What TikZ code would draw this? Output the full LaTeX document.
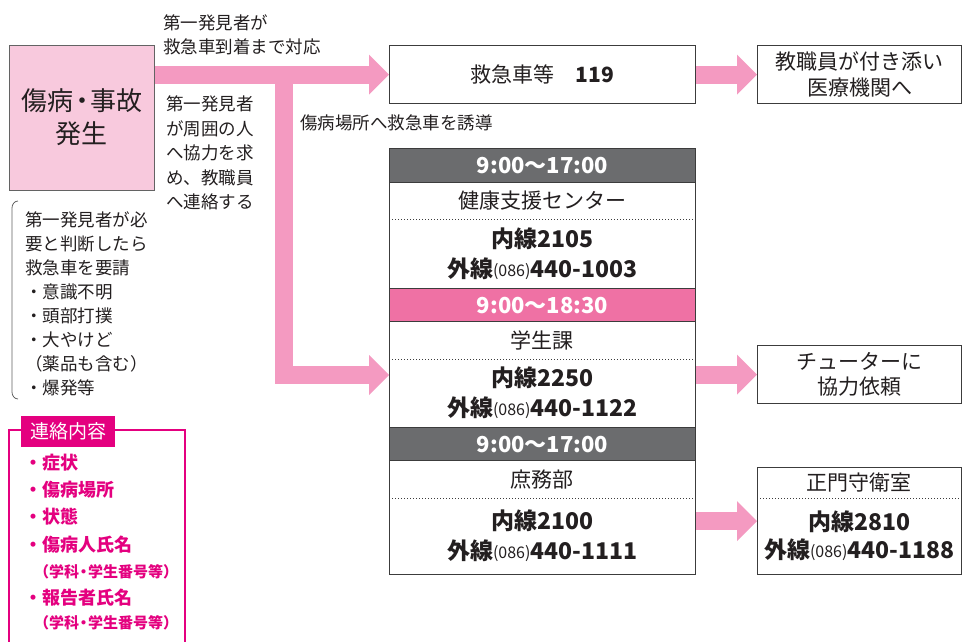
\documentclass[tikz,border=0pt]{standalone}
\usepackage{fontspec}
\setmainfont{Noto Sans CJK JP}
\usetikzlibrary{arrows.meta}
\definecolor{arr}{HTML}{F49AC1}
\definecolor{lpink}{HTML}{F8C9DD}
\definecolor{dgray}{HTML}{6B6C6E}
\definecolor{hpink}{HTML}{EF71A4}
\definecolor{mag}{HTML}{E4007F}
\definecolor{ink}{HTML}{231F20}
\definecolor{edge}{HTML}{3C3C3C}
\newcommand\fsz[2]{\fontsize{#1}{#2}\selectfont}
\newcommand\areacode{{\fsz{16}{16}\raisebox{1pt}{(086)}}}
\pgfdeclarelayer{bg}
\pgfdeclarelayer{arrowlayer}
\pgfsetlayers{bg,arrowlayer,main}
\begin{document}
\begin{tikzpicture}[x=1pt,y=-1pt,
  bx/.style={draw=edge,line width=1.2pt,inner sep=0pt,anchor=north west},
  rw/.style={inner sep=0pt,anchor=north west,minimum width=306pt,text=ink},
  grw/.style={inner sep=0pt,anchor=north west,minimum width=204pt,text=ink},
  hd/.style={rw,draw=edge,line width=1.2pt,text=white,font=\bfseries\fsz{22}{26}},
  tx/.style={text=ink,inner sep=0pt},
  fat/.style={draw=arr,line width=18pt,line join=miter,-{Triangle[length=20pt,width=40pt,line width=0pt]}},
  dl/.style={draw=edge,line width=0.7pt,dash pattern=on 1.4pt off 1.6pt},
  mg/.style={text=mag,inner sep=0pt,anchor=west}
]
\useasboundingbox (0,0) rectangle (962,642);
\begin{pgfonlayer}{bg}
\fill[white] (0,0) rectangle (962,642);
\end{pgfonlayer}

% left box
\node[bx,fill=lpink,draw=edge!80,minimum width=145pt,minimum height=145pt] (lbox) at (9,45) {};
\node[tx,align=center,font=\fsz{26}{33}] (ltext) at (82,117) {傷病\kern-0.18em・\kern-0.18em事故\\発生};

% top boxes
\node[bx,minimum width=306pt,minimum height=58pt] (top) at (389,45) {};
\node[tx,font=\fsz{21}{25}] (toptext) at (top.center) {救急車等　\textbf{119}};
\node[bx,minimum width=204pt,minimum height=58pt] (hosp) at (757,45) {};
\node[tx,align=center,font=\fsz{21}{26}] (hosptext) at (hosp.center) {教職員が付き添い\\医療機関へ};

% labels
\node[tx,anchor=west,align=left,font=\fsz{17.5}{24}] (labA) at (163,35) {第一発見者が\\救急車到着まで対応};
\node[tx,anchor=west,align=left,font=\fsz{17.5}{24.5}] (labB) at (166,153) {第一発見者\\が周囲の人\\へ協力を求\\め、教職員\\へ連絡する};
\node[tx,anchor=west,font=\fsz{17.5}{22}] (labC) at (300,123) {傷病場所へ救急車を誘導};

% center column
\node[hd,fill=dgray,minimum height=34pt] (h1) at (389,148) {9:00〜17:00};
\node[rw,minimum height=37pt,font=\fsz{21}{25}] (n1) at (389,182) {健康支援センター};
\node[rw,minimum height=69pt,align=center,font=\fsz{23}{30}] (t1) at (389,219) {\textbf{内線2105}\\\textbf{外線}\areacode\textbf{440-1003}};
\node[hd,fill=hpink,minimum height=33pt] (h2) at (389,288) {9:00〜18:30};
\node[rw,minimum height=38pt,font=\fsz{21}{25}] (n2) at (389,321) {学生課};
\node[rw,minimum height=68pt,align=center,font=\fsz{23}{30}] (t2) at (389,359) {\textbf{内線2250}\\\textbf{外線}\areacode\textbf{440-1122}};
\node[hd,fill=dgray,minimum height=33pt] (h3) at (389,427) {9:00〜17:00};
\node[rw,minimum height=38pt,font=\fsz{21}{25}] (n3) at (389,460) {庶務部};
\node[rw,minimum height=76pt,align=center,font=\fsz{23}{30}] (t3) at (389,498) {\textbf{内線2100}\\\textbf{外線}\areacode\textbf{440-1111}};
\draw[dl] (n1.south west) -- (n1.south east);
\draw[dl] (n2.south west) -- (n2.south east);
\draw[dl] (n3.south west) -- (n3.south east);
\node[bx,minimum width=306pt,minimum height=426pt] (col) at (389,148) {};

% right boxes
\node[bx,minimum width=204pt,minimum height=58pt] (tutor) at (757,345) {};
\node[tx,align=center,font=\fsz{21}{25}] (tutortext) at (tutor.center) {チューターに\\協力依頼};
\node[grw,minimum height=31pt,font=\fsz{21}{25}] (gn) at (757,467) {正門守衛室};
\node[grw,minimum height=76pt,align=center,font=\fsz{23}{28}] (gt) at (757,498) {\textbf{内線2810}\\\textbf{外線}\areacode\textbf{440-1188}};
\draw[dl] (gn.south west) -- (gn.south east);
\node[bx,minimum width=204pt,minimum height=107pt] (gate) at (757,467) {};

% bracket list
\draw[edge!80,line width=0.8pt] (18,201) to[out=180,in=90] (12,208) -- (12,392) to[out=-90,in=180] (18,399);
\node[tx,anchor=west,align=left,font=\fsz{17.5}{24}] (req) at (25,304) {第一発見者が必\\要と判断したら\\救急車を要請\\・意識不明\\・頭部打撲\\・大やけど\\（薬品も含む）\\・爆発等};

% contact contents box
\draw[mag,line width=2pt] (9,430) rectangle (185,700);
\node[fill=mag,text=white,inner sep=0pt,minimum width=94pt,minimum height=31pt,anchor=north west,font=\fsz{19}{22}] (tab) at (21,416) {連絡内容};
\node[mg,font=\bfseries\fsz{18}{22}] (c1) at (24,463) {・症状};
\node[mg,font=\bfseries\fsz{18}{22}] (c2) at (24,490) {・傷病場所};
\node[mg,font=\bfseries\fsz{18}{22}] (c3) at (24,517) {・状態};
\node[mg,font=\bfseries\fsz{18}{22}] (c4) at (24,545) {・傷病人氏名};
\node[mg,font=\bfseries\fsz{15}{18}] (c5) at (34,572) {（学科\kern-0.2em・\kern-0.2em学生番号等）};
\node[mg,font=\bfseries\fsz{18}{22}] (c6) at (24,598) {・報告者氏名};
\node[mg,font=\bfseries\fsz{15}{18}] (c7) at (34,623) {（学科\kern-0.2em・\kern-0.2em学生番号等）};

% arrows
\coordinate (j) at (284,74);
\coordinate (cin) at (389,375);
\begin{pgfonlayer}{arrowlayer}
\draw[fat] (lbox.east |- top.west) -- (top.west);
\draw[fat] (j) |- (cin);
\draw[fat] (top.east) -- (hosp.west);
\draw[fat] (col.east |- tutor.west) -- (tutor.west);
\draw[fat] (col.east |- gate.west) -- (gate.west);
\end{pgfonlayer}
\end{tikzpicture}
\end{document}
